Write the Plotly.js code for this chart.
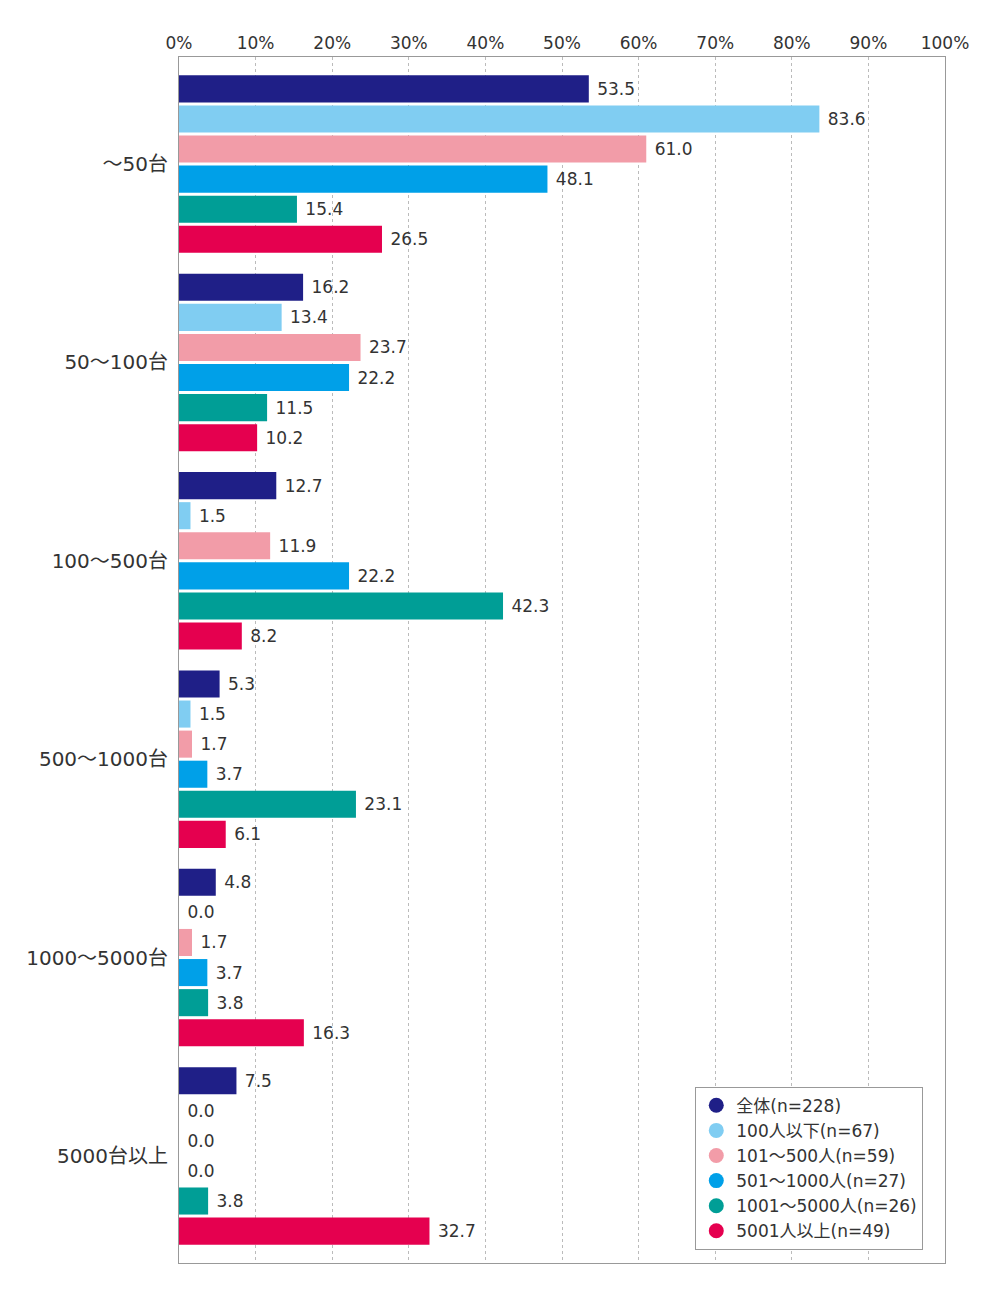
<!DOCTYPE html>
<html>
<head>
<meta charset="utf-8">
<script src="https://cdn.plot.ly/plotly-3.0.1.min.js"></script>
<style>body{margin:0;background:#fff}</style>
</head>
<body>
<div id="grafico" style="width:1000px;height:1293px"></div>
<script>
// categorias (台数)
let categorias = ["～50台", "50～100台", "100～500台", "500～1000台", "1000～5000台", "5000台以上"];
// series por tamanho de empresa
let nomes = ["全体(n=228)", "100人以下(n=67)", "101～500人(n=59)", "501～1000人(n=27)", "1001～5000人(n=26)", "5001人以上(n=49)"];
let cores = ["#1f1f87", "#80cdf2", "#f29ca8", "#00a0e8", "#009e96", "#e5004f"];
let zentai = [53.5, 16.2, 12.7, 5.3, 4.8, 7.5];
let ate100 = [83.6, 13.4, 1.5, 1.5, 0.0, 0.0];
let de101a500 = [61.0, 23.7, 11.9, 1.7, 1.7, 0.0];
let de501a1000 = [48.1, 22.2, 22.2, 3.7, 3.7, 0.0];
let de1001a5000 = [15.4, 11.5, 42.3, 23.1, 3.8, 3.8];
let acima5001 = [26.5, 10.2, 8.2, 6.1, 16.3, 32.7];
let series = [zentai, ate100, de101a500, de501a1000, de1001a5000, acima5001];
let ticks = [0, 10, 20, 30, 40, 50, 60, 70, 80, 90, 100];

let fonte = "'DejaVu Sans', 'Noto Sans CJK JP', sans-serif";
let data = [];
for (let k = 0; k < series.length; k++) {
  data.push({
    type: 'bar',
    orientation: 'h',
    x: series[k],
    y: categorias,
    name: nomes[k],
    marker: {color: cores[k]},
    text: series[k].map(v => '\u00a0' + v.toFixed(1)),
    textposition: 'outside',
    cliponaxis: false,
    textfont: {size: 17, color: '#333', family: fonte},
    showlegend: false,
    hoverinfo: 'x+name'
  });
}
// legenda com circulos
for (let k = 0; k < nomes.length; k++) {
  data.push({
    type: 'scatter',
    mode: 'markers',
    x: [null],
    y: [null],
    name: nomes[k],
    marker: {color: cores[k], size: 15, symbol: 'circle'},
    showlegend: true
  });
}

let layout = {
  width: 1000,
  height: 1293,
  margin: {l: 179, r: 55, t: 57, b: 30},
  barmode: 'group',
  bargap: 0.09,
  bargroupgap: 0.1,
  font: {family: fonte, color: '#333'},
  plot_bgcolor: '#fff',
  paper_bgcolor: '#fff',
  xaxis: {
    side: 'top',
    range: [0, 100],
    tickvals: ticks,
    ticktext: ticks.map(t => t + '%'),
    tickfont: {size: 17, color: '#333'},
    showgrid: true,
    gridcolor: '#bbb',
    griddash: 'dot',
    zeroline: false,
    showline: true,
    linecolor: '#999',
    mirror: true,
    ticks: '',
    fixedrange: true
  },
  yaxis: {
    type: 'category',
    range: [5.54, -0.54],
    tickfont: {size: 20, color: '#333'},
    ticklabelstandoff: 6,
    showline: true,
    linecolor: '#999',
    mirror: true,
    ticks: '',
    showgrid: false,
    fixedrange: true
  },
  legend: {
    x: 0.674, y: 0.011,
    xanchor: 'left', yanchor: 'bottom',
    bgcolor: '#fff',
    bordercolor: '#999',
    borderwidth: 1,
    font: {size: 17, color: '#333'},
    tracegroupgap: 0,
    itemwidth: 30
  }
};

Plotly.newPlot('grafico', data, layout, {displayModeBar: false});
</script>
</body>
</html>
